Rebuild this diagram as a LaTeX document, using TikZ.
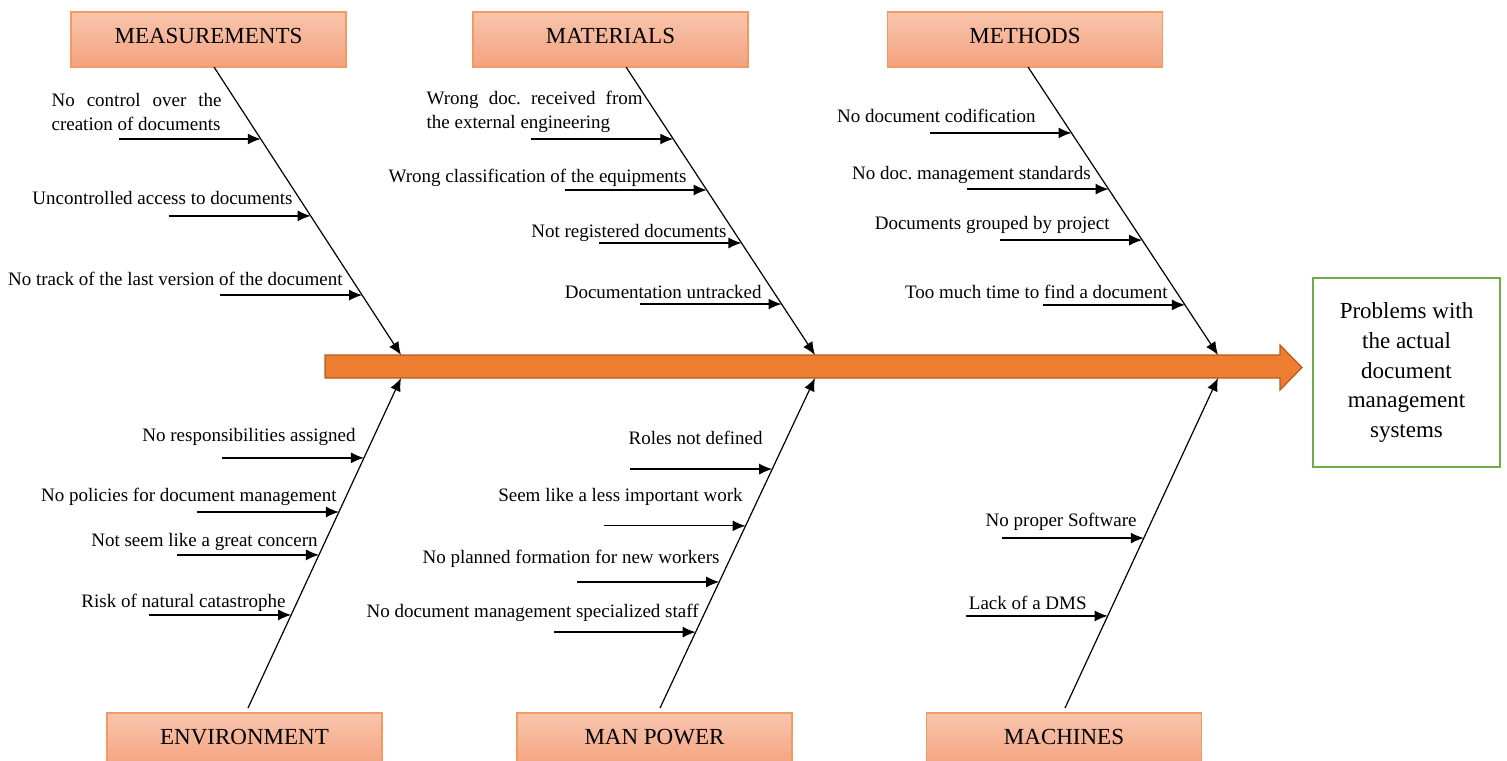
\documentclass[tikz,border=0pt]{standalone}
\usepackage{fontspec}
\setmainfont{Liberation Serif}
\usepackage{tikz}
\usetikzlibrary{calc,arrows.meta}
\frenchspacing

\definecolor{spinefill}{HTML}{ED7D31}
\definecolor{spineline}{HTML}{B85A1C}
\definecolor{boxtop}{HTML}{F8C5AD}
\definecolor{boxbot}{HTML}{F4A27E}
\definecolor{boxline}{HTML}{F29A60}
\definecolor{effectline}{HTML}{70AD47}

\begin{document}
\begin{tikzpicture}[x=0.5pt,y=-0.5pt,
            category/.style={draw=boxline,line width=0.7pt,top color=boxtop,bottom color=boxbot,
                minimum width=137.5pt,minimum height=27.5pt,inner sep=0pt,text depth=4pt,
                font=\fontsize{11.5}{14}\selectfont},
            reason/.style={anchor=east,inner sep=0pt,font=\fontsize{9.5}{12}\selectfont},
            bone/.style={line width=0.6pt,-{Latex[length=6.5pt,width=5.5pt]}},
            cause/.style={line width=0.65pt,-{Latex[length=6.5pt,width=5.5pt]}}]
            \useasboundingbox (0,0) rectangle (1507,760);

            % spine and effect
            \draw[fill=spinefill,draw=spineline,line width=0.6pt] (325,355) -- (1280,355) -- (1280,345) -- (1302,367.5) -- (1280,390) -- (1280,378) -- (325,378) -- cycle;
            \node[draw=effectline,line width=1pt,minimum width=93.5pt,minimum height=94.5pt,align=center,
                font=\fontsize{11.5}{14.9}\selectfont] (effect) at (1406.5,372.5) {Problems with\\the actual\\document\\management\\systems};

            % categories
            \node[category] (meas) at (208.5,39.5) {MEASUREMENTS};
            \node[category] (mat) at (610.5,39.5) {MATERIALS};
            \node[category] (meth) at (1025,39.5) {METHODS};
            \node[category] (env) at (244.5,740.5) {ENVIRONMENT};
            \node[category] (man) at (654.5,740.5) {MAN POWER};
            \node[category] (mach) at (1064,740.5) {MACHINES};

            % bones
            \coordinate (meas-s) at (214,67);   \coordinate (meas-e) at (401,355);
            \coordinate (mat-s) at (626,67);    \coordinate (mat-e) at (815,355);
            \coordinate (meth-s) at (1028,67);  \coordinate (meth-e) at (1218,355);
            \coordinate (env-s) at (248,708);   \coordinate (env-e) at (401,378);
            \coordinate (man-s) at (660,708);   \coordinate (man-e) at (815,378);
            \coordinate (mach-s) at (1065,708); \coordinate (mach-e) at (1218,378);
            \draw[bone] (meas-s) -- (meas-e);
            \draw[bone] (mat-s) -- (mat-e);
            \draw[bone] (meth-s) -- (meth-e);
            \draw[bone] (env-s) -- (env-e);
            \draw[bone] (man-s) -- (man-e);
            \draw[bone] (mach-s) -- (mach-e);

            % measurements
            \coordinate (meas1) at ($(meas-s)!0.25!(meas-e)$);
            \coordinate (meas2) at ($(meas-s)!0.517!(meas-e)$);
            \coordinate (meas3) at ($(meas-s)!0.792!(meas-e)$);
            \draw[cause] ($(meas1)-(142,0)$) -- (meas1);
            \draw[cause] ($(meas2)-(142,0)$) -- (meas2);
            \draw[cause] ($(meas3)-(142,0)$) -- (meas3);
            \node[reason,align=left] (meas1t) at (222,112) {\makebox[85pt][s]{No control over the}\\creation of documents};
            \node[reason] (meas2t) at (293,198) {Uncontrolled access to documents};
            \node[reason] (meas3t) at (343,279) {No track of the last version of the document};

            % materials
            \coordinate (mat1) at ($(mat-s)!0.25!(mat-e)$);
            \coordinate (mat2) at ($(mat-s)!0.427!(mat-e)$);
            \coordinate (mat3) at ($(mat-s)!0.611!(mat-e)$);
            \coordinate (mat4) at ($(mat-s)!0.823!(mat-e)$);
            \draw[cause] ($(mat1)-(142,0)$) -- (mat1);
            \draw[cause] ($(mat2)-(142,0)$) -- (mat2);
            \draw[cause] ($(mat3)-(142,0)$) -- (mat3);
            \draw[cause] ($(mat4)-(142,0)$) -- (mat4);
            \node[reason,align=left] (mat1t) at (643,112) {\makebox[108pt][s]{Wrong doc. received from}\\the external engineering};
            \node[reason] (mat2t) at (687,178) {Wrong classification of the equipments};
            \node[reason] (mat3t) at (727,233) {Not registered documents};
            \node[reason] (mat4t) at (762,292) {Documentation untracked};

            % methods
            \coordinate (meth1) at ($(meth-s)!0.229!(meth-e)$);
            \coordinate (meth2) at ($(meth-s)!0.424!(meth-e)$);
            \coordinate (meth3) at ($(meth-s)!0.601!(meth-e)$);
            \coordinate (meth4) at ($(meth-s)!0.826!(meth-e)$);
            \draw[cause] ($(meth1)-(142,0)$) -- (meth1);
            \draw[cause] ($(meth2)-(142,0)$) -- (meth2);
            \draw[cause] ($(meth3)-(142,0)$) -- (meth3);
            \draw[cause] ($(meth4)-(142,0)$) -- (meth4);
            \node[reason] (meth1t) at (1036,116) {No document codification};
            \node[reason] (meth2t) at (1091,175) {No doc. management standards};
            \node[reason] (meth3t) at (1110,225) {Documents grouped by project};
            \node[reason] (meth4t) at (1168,292) {Too much time to find a document};

            % environment
            \coordinate (env1) at ($(env-s)!0.758!(env-e)$);
            \coordinate (env2) at ($(env-s)!0.594!(env-e)$);
            \coordinate (env3) at ($(env-s)!0.464!(env-e)$);
            \coordinate (env4) at ($(env-s)!0.282!(env-e)$);
            \draw[cause] ($(env1)-(142,0)$) -- (env1);
            \draw[cause] ($(env2)-(142,0)$) -- (env2);
            \draw[cause] ($(env3)-(142,0)$) -- (env3);
            \draw[cause] ($(env4)-(142,0)$) -- (env4);
            \node[reason] (env1t) at (356,437) {No responsibilities assigned};
            \node[reason] (env2t) at (337,497) {No policies for document management};
            \node[reason] (env3t) at (318,542) {Not seem like a great concern};
            \node[reason] (env4t) at (286,603) {Risk of natural catastrophe};

            % man power
            \coordinate (man1) at ($(man-s)!0.724!(man-e)$);
            \coordinate (man2) at ($(man-s)!0.552!(man-e)$);
            \coordinate (man3) at ($(man-s)!0.382!(man-e)$);
            \coordinate (man4) at ($(man-s)!0.230!(man-e)$);
            \draw[cause] ($(man1)-(142,0)$) -- (man1);
            \draw[cause] ($(man2)-(142,0)$) -- (man2);
            \draw[cause] ($(man3)-(142,0)$) -- (man3);
            \draw[cause] ($(man4)-(142,0)$) -- (man4);
            \node[reason] (man1t) at (763,438) {Roles not defined};
            \node[reason] (man2t) at (743,497) {Seem like a less important work};
            \node[reason] (man3t) at (720,559) {No planned formation for new workers};
            \node[reason] (man4t) at (699,613) {No document management specialized staff};

            % machines
            \coordinate (mach1) at ($(mach-s)!0.515!(mach-e)$);
            \coordinate (mach2) at ($(mach-s)!0.279!(mach-e)$);
            \draw[cause] ($(mach1)-(142,0)$) -- (mach1);
            \draw[cause] ($(mach2)-(142,0)$) -- (mach2);
            \node[reason] (mach1t) at (1137,522) {No proper Software};
            \node[reason] (mach2t) at (1087,603) {Lack of a DMS};
\end{tikzpicture}
\end{document}
